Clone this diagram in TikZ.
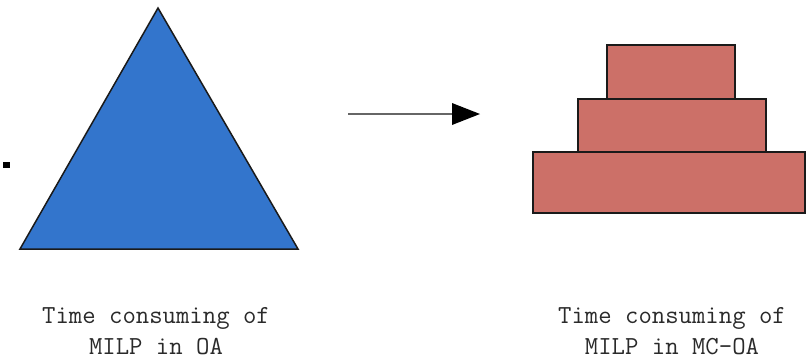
\documentclass[tikz,border=0pt]{standalone}
\usetikzlibrary{arrows.meta}
\definecolor{triblue}{HTML}{3375CC}
\definecolor{stepred}{HTML}{CC7068}
\definecolor{edge}{HTML}{1A1A1A}
\definecolor{txt}{HTML}{2A2A2A}
\tikzset{
  shapeline/.style={draw=edge, line width=1.5pt, line join=miter},
  caption/.style={anchor=base, inner sep=0pt, text=txt, font=\ttfamily\fontsize{26}{31}\selectfont},
}
\begin{document}
\begin{tikzpicture}[x=1pt,y=-1pt]
\useasboundingbox (0,0) rectangle (807,360);
% small square
\fill[black] (3,162) rectangle (10,168);
% triangle
\filldraw[shapeline, fill=triblue] (158,8) -- (298,249) -- (20,249) -- cycle;
% arrow
\coordinate (a1) at (348,114);
\coordinate (a2) at (480,114);
\draw[line width=2.4pt, draw=black!60, -{Triangle[length=28pt,width=22pt,fill=black,line width=0pt]}] (a1) -- (a2);
% stacked rectangles
\filldraw[shapeline, fill=stepred] (533,152) rectangle (805,213);
\filldraw[shapeline, fill=stepred] (578,99) rectangle (766,152);
\filldraw[shapeline, fill=stepred] (607,45) rectangle (735,99);
% captions
\node[caption] (l1) at (156,323) {Time consuming of};
\node[caption] (l2) at (156,354) {MILP in OA};
\node[caption] (r1) at (672,323) {Time consuming of};
\node[caption] (r2) at (672,354) {MILP in MC-OA};
\end{tikzpicture}
\end{document}
